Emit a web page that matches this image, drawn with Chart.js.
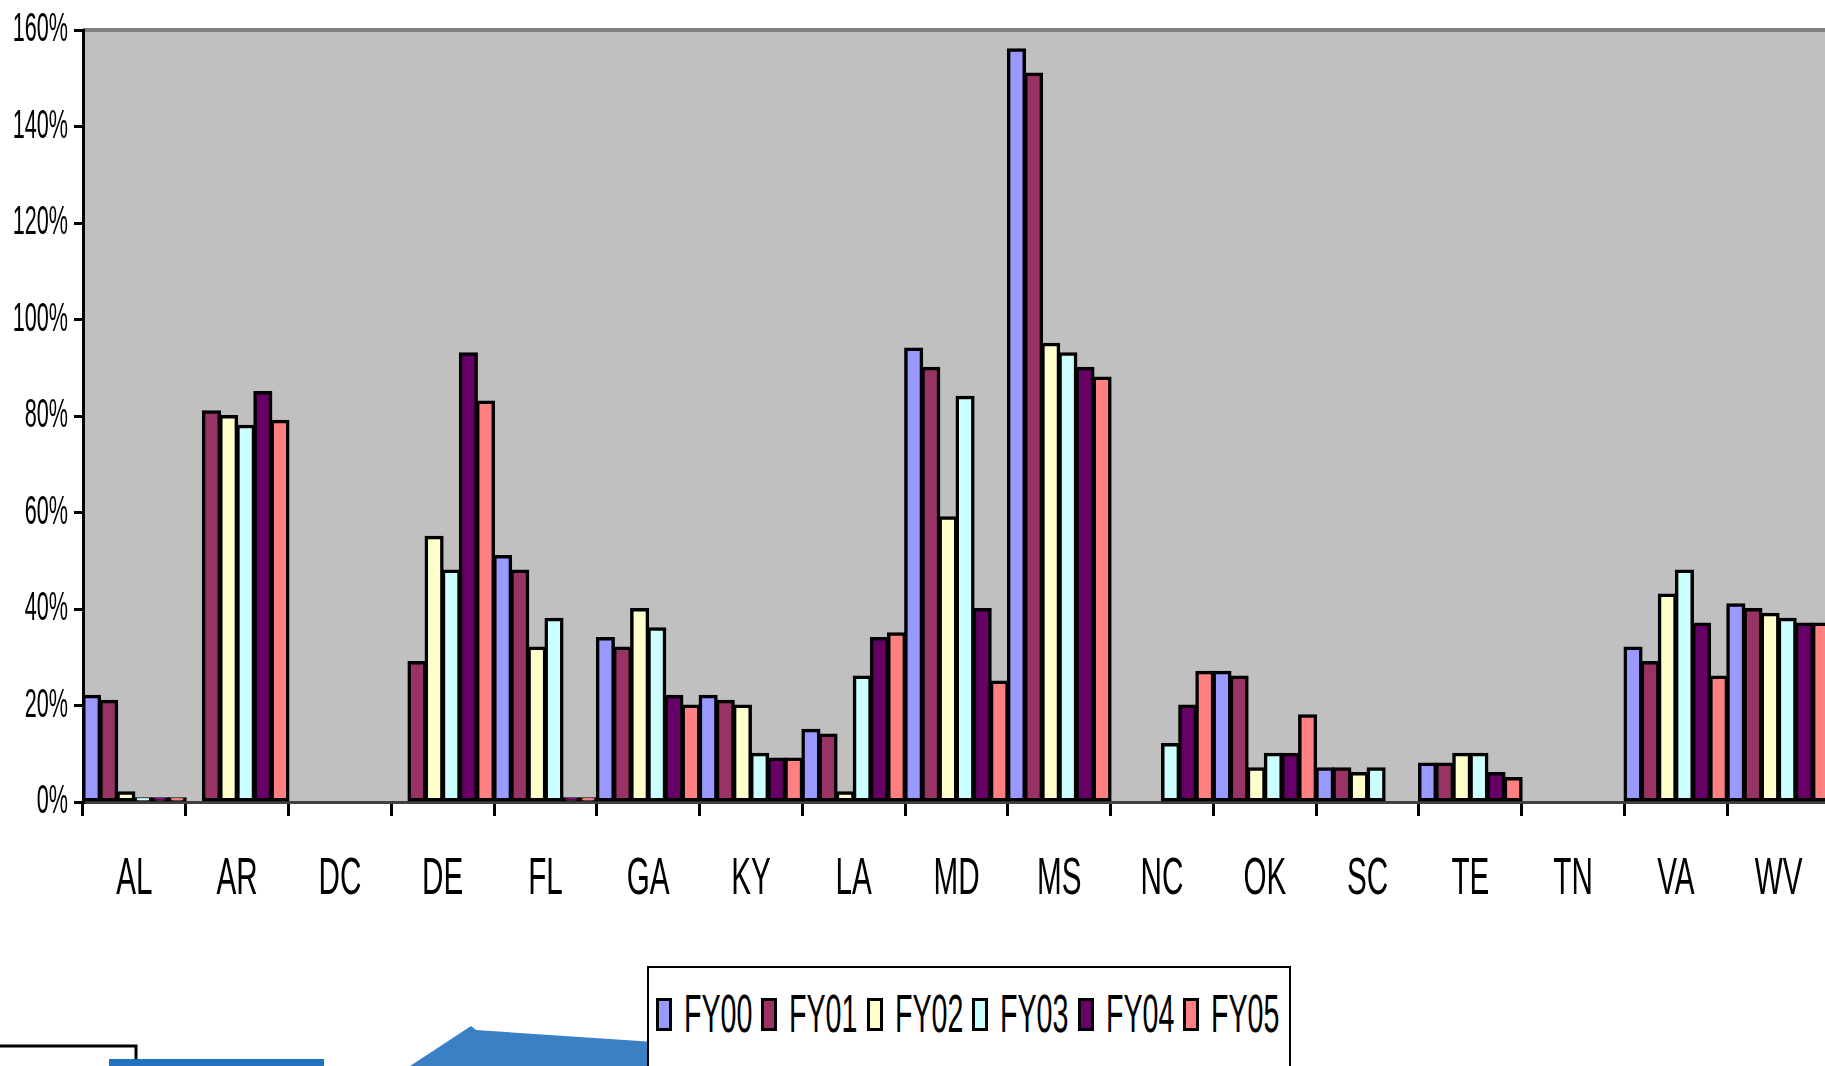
<!DOCTYPE html>
<html>
<head>
<meta charset="utf-8">
<script src="https://cdn.jsdelivr.net/npm/chart.js@4.4.0/dist/chart.umd.min.js"></script>
<style>
  html, body { margin: 0; padding: 0; background: #fff; overflow: hidden; }
  body { width: 1825px; height: 1066px; position: relative; }
  #chart { position: absolute; left: 0; top: 0; }
  #deco { position: absolute; left: 0; top: 0; }
  #legend {
    position: absolute; left: 647px; top: 966px; width: 644px; height: 130px;
    border: 2px solid #000; background: #fff; box-sizing: border-box;
  }
  .item { position: absolute; top: 30px; width: 100px; height: 33px; }
  .swatch {
    position: absolute; left: 0; top: 0; width: 16px; height: 33px;
    border: 3px solid #000; box-sizing: border-box;
  }
  .label {
    position: absolute; left: 28px; top: -12px; white-space: nowrap;
    font: 54px 'Liberation Sans', Arial, sans-serif; line-height: 1; color: #000;
    transform: scaleX(0.53); transform-origin: 0 0;
  }
</style>
</head>
<body>
<!-- bits of the next slide that show under the chart -->
<svg id="deco" width="1825" height="1066">
  <rect x="-10" y="1046" width="146" height="40" fill="#fff" stroke="#000" stroke-width="3"/>
  <rect x="109" y="1059" width="215" height="20" fill="#2372C2"/>
  <polygon points="404,1070 471,1026 476,1030 700,1045 700,1070" fill="#3B80C4"/>
</svg>
<canvas id="chart" width="1835" height="950"></canvas>
<div id="legend"></div>
<script>
const categories = ['AL', 'AR', 'DC', 'DE', 'FL', 'GA', 'KY', 'LA', 'MD', 'MS', 'NC', 'OK', 'SC', 'TE', 'TN', 'VA', 'WV'];
const seriesNames = ['FY00', 'FY01', 'FY02', 'FY03', 'FY04', 'FY05'];

// percent values per state
const fy00 = [22, 0, 0, 0, 51, 34, 22, 15, 94, 156, 0, 27, 7, 8, 0, 32, 41];
const fy01 = [21, 81, 0, 29, 48, 32, 21, 14, 90, 151, 0, 26, 7, 8, 0, 29, 40];
const fy02 = [2, 80, 0, 55, 32, 40, 20, 2, 59, 95, 0, 7, 6, 10, 0, 43, 39];
const fy03 = [0.8, 78, 0, 48, 38, 36, 10, 26, 84, 93, 12, 10, 7, 10, 0, 48, 38];
const fy04 = [0.8, 85, 0, 93, 0.8, 22, 9, 34, 40, 90, 20, 10, 0, 6, 0, 37, 37];
const fy05 = [0.8, 79, 0, 83, 0.8, 20, 9, 35, 25, 88, 27, 18, 0, 5, 0, 26, 37];

const seriesValues = [fy00, fy01, fy02, fy03, fy04, fy05];
const seriesColors = ['#9999FF', '#993366', '#FFFFCC', '#CCFFFF', '#660066', '#FF8080'];

// the original uses horizontally squashed text, so the axes draw their labels scaled in x
function squeezedScale(baseId, newId, factor) {
  const Base = Chart.registry.getScale(baseId);
  class Squeezed extends Base {
    drawLabels(chartArea) {
      const ctx = this.ctx;
      for (const item of this.getLabelItems(chartArea)) {
        const o = item.options;
        ctx.save();
        ctx.translate(o.translation[0], o.translation[1]);
        ctx.scale(factor, 1);
        ctx.font = item.font.string;
        ctx.fillStyle = o.color;
        ctx.textAlign = o.textAlign;
        ctx.textBaseline = o.textBaseline;
        ctx.fillText(item.label, 0, item.textOffset);
        ctx.restore();
      }
    }
  }
  Squeezed.id = newId;
  Squeezed.defaults = {};
  Chart.register(Squeezed);
}
squeezedScale('category', 'squeezedCategory', 0.57);
squeezedScale('linear', 'squeezedLinear', 0.54);

// grey plot area with the darker line along the top
const plotBackground = {
  id: 'plotBackground',
  beforeDraw(chart) {
    const { ctx, chartArea: a } = chart;
    ctx.save();
    ctx.fillStyle = '#C0C0C0';
    ctx.fillRect(a.left, a.top, a.right - a.left, a.bottom - a.top);
    ctx.fillStyle = '#808080';
    ctx.fillRect(a.left, a.top - 2, a.right - a.left, 4);
    ctx.restore();
  }
};

const fontFamily = "'Liberation Sans', Arial, sans-serif";

const chart = new Chart(document.getElementById('chart'), {
  type: 'bar',
  data: {
    labels: categories,
    datasets: seriesNames.map((name, i) => ({
      label: name,
      data: seriesValues[i],
      backgroundColor: seriesColors[i],
      borderColor: '#000',
      borderWidth: 3.5,
      borderSkipped: false,
      inflateAmount: 1,
      categoryPercentage: 1,
      barPercentage: 1
    }))
  },
  options: {
    responsive: false,
    animation: false,
    layout: { padding: { top: 30, right: 5, left: 0, bottom: 0 } },
    plugins: {
      legend: { display: false },
      tooltip: { enabled: false }
    },
    scales: {
      x: {
        type: 'squeezedCategory',
        grid: { offset: true, drawOnChartArea: false, tickLength: 14, color: '#000', lineWidth: 3 },
        border: { color: '#404040', width: 3 },
        ticks: { color: '#000', font: { family: fontFamily, size: 52 }, padding: 32, maxRotation: 0, autoSkip: false },
        afterFit: (s) => {
          s.height = 148;
          s.paddingLeft = 0;
          s.paddingRight = 0;
        }
      },
      y: {
        type: 'squeezedLinear',
        min: 0,
        max: 160,
        grid: { drawOnChartArea: false, tickLength: 9, color: '#000', lineWidth: 3 },
        border: { color: '#000', width: 3 },
        ticks: { stepSize: 20, color: '#000', font: { family: fontFamily, size: 40 }, padding: 6, callback: (v) => v + '%' },
        afterFit: (s) => { s.width = 83; }
      }
    }
  },
  plugins: [plotBackground]
});

// boxed legend below the chart
const legend = document.getElementById('legend');
seriesNames.forEach((name, i) => {
  const item = document.createElement('div');
  item.className = 'item';
  item.style.left = (7 + i * 105.4) + 'px';
  item.innerHTML = '<div class="swatch" style="background:' + seriesColors[i] + '"></div><span class="label">' + name + '</span>';
  legend.appendChild(item);
});
</script>
</body>
</html>
